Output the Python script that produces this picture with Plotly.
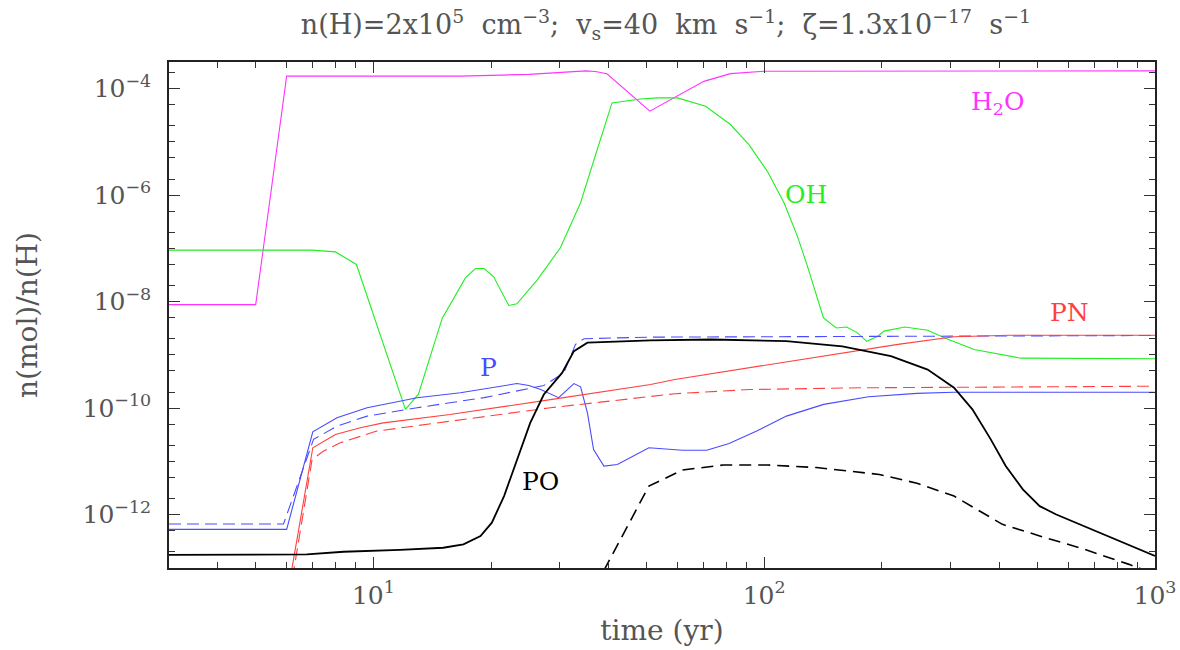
import numpy as np
import plotly.graph_objects as go

# ---- data (time in yr, abundances relative to H) ----
t_h2o = [3, 5, 6, 16.7, 25, 35, 37, 39.6, 51, 60, 70.1, 82, 100, 1000]
h2o   = [8.8e-9, 8.8e-9, 1.72e-4, 1.72e-4, 1.85e-4, 2.15e-4, 2.1e-4, 1.9e-4, 3.77e-5, 7.4e-5, 1.37e-4, 1.91e-4, 2.12e-4, 2.15e-4]

t_oh = [3, 6.97, 8.0, 9.05, 12.08, 13.04, 15.0, 17.2, 18.25, 19.2, 20.3, 22.2, 23.3, 26.3, 30.1, 33.9,
        37.4, 40.8, 48.3, 53.3, 60, 70.8, 82, 91.4, 101.9, 112.4, 121.6, 129, 141.8, 152.9, 162.6,
        173.3, 183, 195.3, 202.7, 229, 262, 294, 344.6, 403, 454, 1000]
oh   = [9.3e-8, 9.3e-8, 8.6e-8, 5.0e-8, 9.5e-11, 1.84e-10, 4.85e-9, 2.8e-8, 4.2e-8, 4.2e-8, 2.97e-8,
        8.5e-9, 9.1e-9, 2.6e-8, 1.03e-7, 7.2e-7, 7.2e-6, 5.4e-5, 6.4e-5, 6.7e-5, 6.7e-5, 4.65e-5,
        2.12e-5, 8.9e-6, 2.8e-6, 7.2e-7, 1.7e-7, 4.65e-8, 4.95e-9, 3.2e-9, 3.35e-9, 2.6e-9, 1.8e-9,
        2.24e-9, 2.8e-9, 3.35e-9, 2.9e-9, 2.0e-9, 1.27e-9, 1.02e-9, 8.7e-10, 8.5e-10]

t_p = [3, 6, 7.0, 8.07, 9.64, 12.94, 16.7, 23.3, 25.0, 26.8, 29.8, 31.0, 32.6, 33.9, 35.3, 36.6, 38.9,
       42.1, 50.7, 61.8, 71.3, 81.3, 95.7, 114, 142, 185, 246, 305, 1000]
p   = [5.3e-13, 5.3e-13, 3.6e-11, 6.6e-11, 1.02e-10, 1.57e-10, 1.95e-10, 2.9e-10, 2.67e-10, 2.24e-10,
       1.58e-10, 2.1e-10, 2.9e-10, 2.52e-10, 8.2e-11, 1.68e-11, 8.2e-12, 8.8e-12, 1.81e-11, 1.62e-11,
       1.62e-11, 2.18e-11, 3.72e-11, 7.1e-11, 1.18e-10, 1.64e-10, 1.9e-10, 2.0e-10, 2.0e-10]

t_p_d = [3, 5.89, 7.03, 8.07, 9.64, 12.94, 19.2, 27.3, 30.7, 32.9, 34.6, 51.2, 1000]
p_d   = [6.7e-13, 6.7e-13, 2.6e-11, 4.6e-11, 7.1e-11, 1.02e-10, 1.58e-10, 2.67e-10, 4.6e-10, 1.58e-9,
         2.02e-9, 2.16e-9, 2.32e-9]

t_pn = [6.0, 7.0, 8.0, 9.26, 10.6, 15.7, 28.4, 51.2, 59.1, 91.6, 142, 220, 306, 425, 1000]
pn   = [2.6e-14, 1.81e-11, 3.2e-11, 4.3e-11, 5.3e-11, 7.6e-11, 1.45e-10, 2.79e-10, 3.47e-10, 5.76e-10,
        9.5e-10, 1.58e-9, 2.2e-9, 2.34e-9, 2.34e-9]

t_pn_d = [6.0, 6.97, 7.46, 8.23, 10.2, 15.7, 28.4, 38.1, 51.2, 59.1, 91.6, 176.6, 342, 1000]
pn_d   = [1.4e-14, 1.09e-11, 1.57e-11, 2.24e-11, 3.72e-11, 5.7e-11, 1.02e-10, 1.3e-10, 1.64e-10,
          1.87e-10, 2.24e-10, 2.42e-10, 2.48e-10, 2.59e-10]

t_po = [3, 6.76, 8.39, 11.7, 15.1, 17.0, 18.8, 20.1, 21.6, 23.3, 25.2, 27.3, 30.4, 32.6, 35.3, 51.2,
        73.6, 114, 158.5, 211, 262, 306, 341, 380, 415, 459, 507, 559, 1000]
po   = [1.76e-13, 1.8e-13, 2.02e-13, 2.18e-13, 2.4e-13, 2.79e-13, 3.98e-13, 7.1e-13, 2.24e-12, 1.09e-11,
        5.3e-11, 1.81e-10, 4.6e-10, 1.18e-9, 1.7e-9, 1.87e-9, 1.95e-9, 1.81e-9, 1.45e-9, 9.5e-10,
        5.3e-10, 2.42e-10, 9.5e-11, 2.6e-11, 8.2e-12, 2.99e-12, 1.45e-12, 1.01e-12, 1.68e-13]

t_po_d = [35, 50.7, 61.8, 78.6, 102, 136, 197, 246, 306, 407, 507, 660, 858, 1000]
po_d   = [2.1e-14, 3.45e-12, 6.9e-12, 8.6e-12, 8.6e-12, 7.7e-12, 5.7e-12, 3.9e-12, 2.24e-12, 6.6e-13,
          4.0e-13, 2.24e-13, 1.17e-13, 7.7e-14]

y_tick_vals = [1e-4, 1e-6, 1e-8, 1e-10, 1e-12]
y_tick_text = ["10<sup>\u22124</sup>", "10<sup>\u22126</sup>", "10<sup>\u22128</sup>",
               "10<sup>\u221210</sup>", "10<sup>\u221212</sup>"]
x_tick_vals = [10, 100, 1000]
x_tick_text = ["10<sup>1</sup>", "10<sup>2</sup>", "10<sup>3</sup>"]

species_labels = ["H<sub>2</sub>O", "OH", "PN", "P", "PO"]
label_x = [396, 128, 603, 19.7, 26.7]
label_y = [5.4e-5, 1.03e-6, 6.3e-9, 5.9e-10, 4.3e-12]

MAG = "#ff33ff"
GRN = "#22ee22"
BLU = "#4a4aff"
RED = "#ff4040"
BLK = "#000000"
TXT = "#555555"
FONT = "DejaVu Serif"
X_RANGE = [np.log10(3), 3]
Y_RANGE = [-13, -3.5]

fig = go.Figure()

def add(x, y, color, width, dash="solid"):
    fig.add_trace(go.Scatter(x=x, y=y, mode="lines",
                             line=dict(color=color, width=width, dash=dash),
                             showlegend=False, hoverinfo="skip"))

add(t_h2o, h2o, MAG, 1.1)
add(t_oh, oh, GRN, 1.1)
add(t_p_d, p_d, BLU, 1.1, "12px,6px")
add(t_p, p, BLU, 1.1)
add(t_pn_d, pn_d, RED, 1.1, "12px,6px")
add(t_pn, pn, RED, 1.1)
add(t_po_d, po_d, BLK, 1.6, "12px,7px")
add(t_po, po, BLK, 1.8)

# invisible trace to hold the minor-tick overlay axes
fig.add_trace(go.Scatter(x=[10], y=[1e-8], xaxis="x2", yaxis="y2", mode="markers",
                         marker=dict(opacity=0), showlegend=False, hoverinfo="skip"))

label_colors = [MAG, GRN, RED, BLU, BLK]
for txt, lx, ly, c in zip(species_labels, label_x, label_y, label_colors):
    fig.add_annotation(x=np.log10(lx), y=np.log10(ly), xref="x", yref="y", text=txt,
                       showarrow=False, font=dict(family=FONT, size=25, color=c))

minor_y = []
for e in range(-14, -2):
    for m in (1, 2, 5):
        v = m * 10.0 ** e
        if v not in y_tick_vals:
            minor_y.append(v)
minor_x = [m * 10.0 ** e for e in range(0, 3) for m in range(2, 10)]

title_txt = ("n(H)=2x10<sup>5</sup>\u00a0\u00a0cm<sup>\u22123</sup>;\u00a0\u00a0v<sub>s</sub>=40\u00a0\u00a0km"
             "\u00a0\u00a0s<sup>\u22121</sup>;\u00a0\u00a0\u03b6=1.3x10<sup>\u221217</sup>\u00a0\u00a0s<sup>\u22121</sup>")

fig.update_layout(
    template="none",
    width=1180, height=650,
    margin=dict(l=169, r=25, t=62, b=82, autoexpand=False),
    paper_bgcolor="white", plot_bgcolor="white",
    title=dict(text=title_txt,
               x=0.504, xref="paper", xanchor="center", y=0.962, yref="container", yanchor="middle",
               font=dict(family=FONT, size=27, color=TXT)),
    xaxis=dict(type="log", range=X_RANGE, automargin=False,
               tickmode="array", tickvals=x_tick_vals, ticktext=x_tick_text,
               ticks="inside", ticklen=11, tickwidth=1, tickcolor="#333",
               showline=True, linecolor="#222", linewidth=1.5, mirror="ticks",
               showgrid=False, zeroline=False, ticklabelstandoff=4,
               tickfont=dict(family=FONT, size=25, color=TXT),
               title=dict(text="time (yr)", font=dict(family=FONT, size=28, color=TXT), standoff=12)),
    yaxis=dict(type="log", range=Y_RANGE, automargin=False,
               tickmode="array", tickvals=y_tick_vals, ticktext=y_tick_text,
               ticks="inside", ticklen=11, tickwidth=1, tickcolor="#333",
               showline=True, linecolor="#222", linewidth=1.5, mirror="ticks",
               showgrid=False, zeroline=False, ticklabelstandoff=11,
               tickfont=dict(family=FONT, size=25, color=TXT),
               title=dict(text="n(mol)/n(H)", font=dict(family=FONT, size=28, color=TXT), standoff=37)),
    xaxis2=dict(type="log", range=X_RANGE, overlaying="x", anchor="y", side="bottom", automargin=False,
                tickmode="array", tickvals=minor_x, showticklabels=False,
                ticks="inside", ticklen=6, tickwidth=1, tickcolor="#333",
                showline=False, mirror="ticks", showgrid=False, zeroline=False),
    yaxis2=dict(type="log", range=Y_RANGE, overlaying="y", anchor="x", side="left", automargin=False,
                tickmode="array", tickvals=minor_y, showticklabels=False,
                ticks="inside", ticklen=6, tickwidth=1, tickcolor="#333",
                showline=False, mirror="ticks", showgrid=False, zeroline=False),
)

fig.write_html("out.html", config={"displayModeBar": False},
               post_script="document.body.style.margin='0px';")
